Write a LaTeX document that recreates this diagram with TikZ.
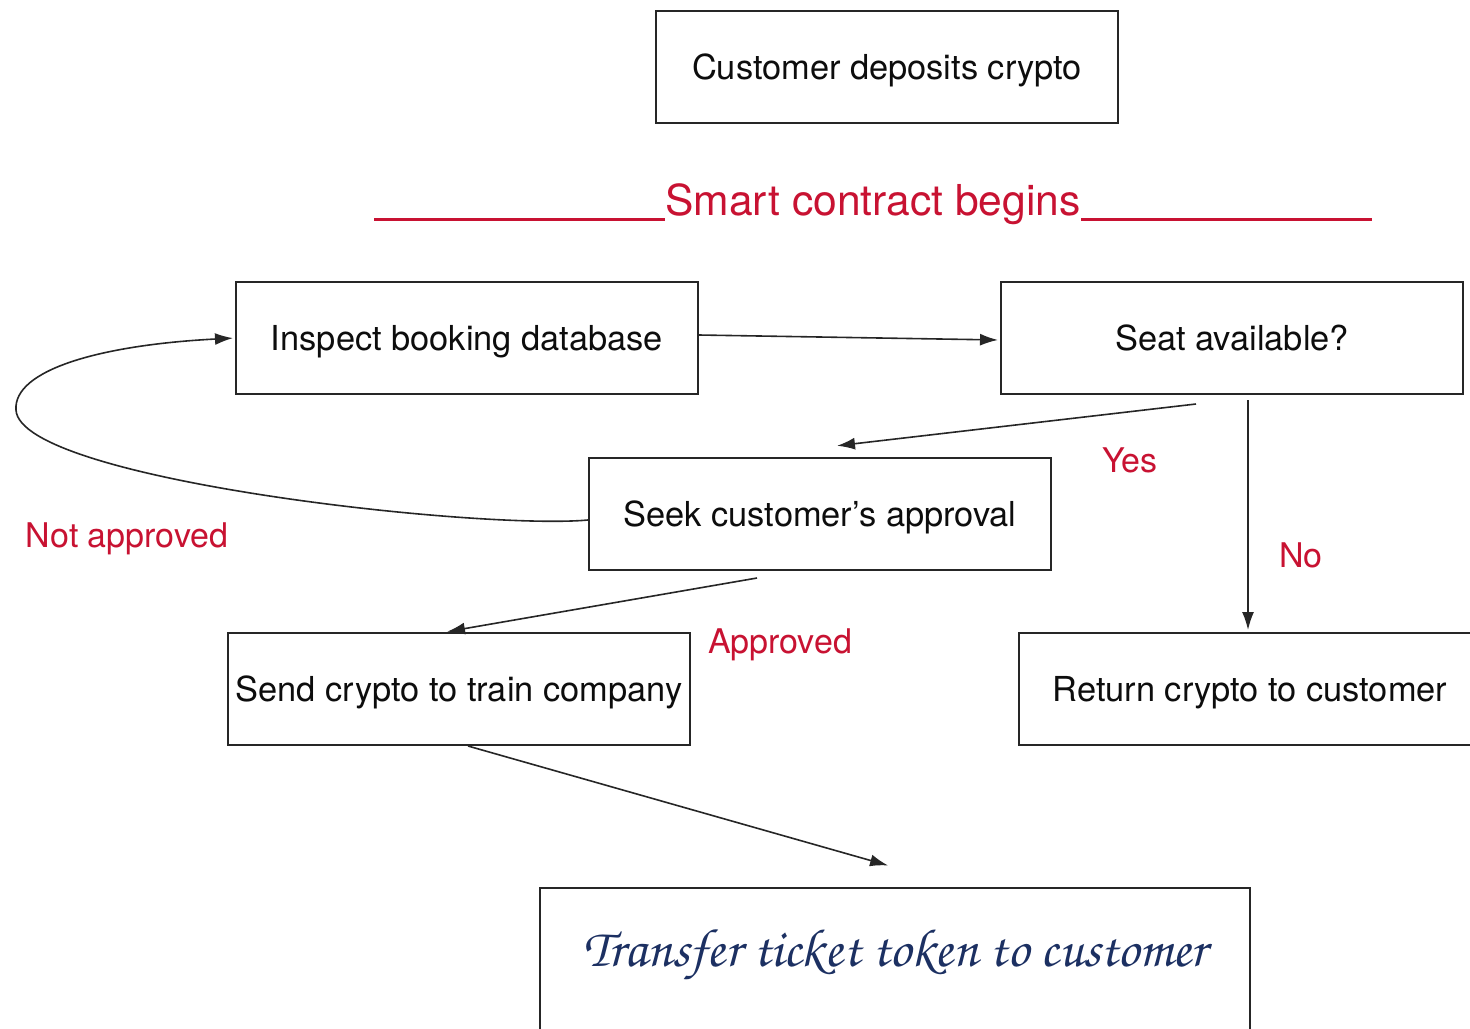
\documentclass[tikz,border=0pt]{standalone}
\usepackage{fontspec}
\setmainfont{TeX Gyre Heros}
\newfontfamily\chorus{texgyrechorus-mediumitalic.otf}
\usepackage{xcolor}
\usetikzlibrary{arrows.meta}
\definecolor{flowred}{RGB}{200,18,50}
\definecolor{inkblue}{RGB}{28,48,98}

\begin{document}
\begin{tikzpicture}
  [ x=0.5pt, y=-0.5pt,
    box/.style={draw=black!85, line width=1pt, minimum width=231pt,
      minimum height=56pt, inner sep=0pt, text=black!95,
      text height=12pt, text depth=0pt,
      font=\fontsize{17.2}{20}\selectfont},
    lbl/.style={text=flowred, inner sep=0pt, font=\fontsize{17}{20}\selectfont},
    arr/.style={draw=black!85, line width=0.8pt, shorten >=1pt,
      -{Latex[length=9pt,width=6pt]}}
  ]
  \clip (0,0) rectangle (1470,1028);
  \useasboundingbox (0,0) rectangle (1470,1028);

  \node (deposit) at ( 887, 67) [box] {Customer deposits crypto};
  \node (inspect) at ( 467,338) [box] {Inspect booking database};
  \node    (seat) at (1232,338) [box] {Seat available?};
  \node    (seek) at ( 820,514) [box] {Seek customer’s approval};
  \node    (send) at ( 459,689) [box] {Send crypto to train company};
  \node  (return) at (1250,689) [box] {Return crypto to customer};
  \node (transfer) at (895,887) [box, anchor=north, minimum width=355pt,
      text height=39pt, text depth=60pt, text=inkblue,
      font=\chorus\fontsize{27}{30}\selectfont] {Transfer ticket token to customer};

  % start of the contract part
  \node (begins) at (873,215) [anchor=base, text=flowred, inner sep=0pt,
      font=\fontsize{21.3}{24}\selectfont] {Smart contract begins};
  \draw [flowred, line width=1.5pt] (374,219) -- (begins.base west |- 0,219);
  \draw [flowred, line width=1.5pt] (begins.base east |- 0,219) -- (1372,219);

  \draw [arr] ([yshift=1.5pt]inspect.east) -- ([yshift=-1pt]seat.west);

  \draw [arr] ([xshift=-18pt,yshift=-4.5pt]seat.south)
    -- ([xshift=7.5pt,yshift=5.5pt]seek.north);
  \node (yes) at (1130,460) [lbl] {Yes};

  \draw [arr] ([xshift=8pt,yshift=-2.5pt]seat.south)
    -- ([xshift=-1pt]return.north);
  \node (no) at (1301,555) [lbl] {No};

  \draw [arr] ([xshift=-31.5pt,yshift=-3.5pt]seek.south)
    -- ([xshift=-7pt]send.north);
  \node (approved) at (780,645) [lbl] {Approved};

  \draw [arr] ([yshift=-3pt]seek.west) .. controls (480,530) and (20,480) .. (16,410)
    .. controls (13,370) and (100,345) .. (inspect.west);
  \node (notapproved) at (127,539) [lbl] {Not approved};

  \draw [arr] ([xshift=4.5pt]send.south) -- ([xshift=-2.5pt,yshift=10.5pt]transfer.north);
\end{tikzpicture}
\end{document}
